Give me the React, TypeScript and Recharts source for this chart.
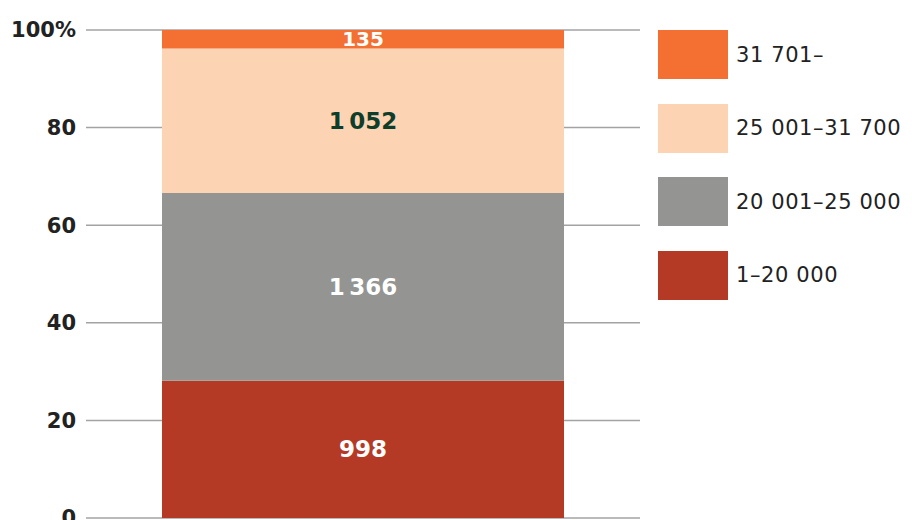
import { Bar, BarChart, CartesianGrid, LabelList, XAxis, YAxis } from 'recharts'

const categories = ['Total']
const band1 = [998] // 1–20 000
const band2 = [1366] // 20 001–25 000
const band3 = [1052] // 25 001–31 700
const band4 = [135] // 31 701–
const yTicks = [0, 0.2, 0.4, 0.6, 0.8, 1]

const series = [
  { key: 'b1', name: '1–20 000', fill: '#B53A26', text: '#ffffff' },
  { key: 'b2', name: '20 001–25 000', fill: '#949593', text: '#ffffff' },
  { key: 'b3', name: '25 001–31 700', fill: '#FCD4B4', text: '#0E3D2A' },
  { key: 'b4', name: '31 701–', fill: '#F37032', text: '#ffffff' },
]

const data = categories.map((c, i) => ({
  name: c,
  b1: band1[i],
  b2: band2[i],
  b3: band3[i],
  b4: band4[i],
}))

const font = '"DejaVu Sans", sans-serif'

const fmt = (v: number) => String(v).replace(/\B(?=(\d{3})+(?!\d))/g, '\u2009')

function renderLabel(color: string, small: boolean) {
  return (props: any) => {
    const { x, y, width, height, value } = props
    const cy = small ? y + height / 2 + 7 : y + height / 2 + 8
    return (
      <text
        x={x + width / 2}
        y={cy}
        textAnchor="middle"
        fill={color}
        fontFamily={font}
        fontWeight={700}
        fontSize={small ? 20 : 23}
      >
        {fmt(value)}
      </text>
    )
  }
}

function LegendBox() {
  const items = [...series].reverse()
  return (
    <div style={{ position: 'absolute', left: 658, top: 30, fontFamily: font }}>
      {items.map((s) => (
        <div key={s.key} style={{ display: 'flex', alignItems: 'center', height: 49, marginBottom: 24.5 }}>
          <div style={{ width: 70, height: 49, background: s.fill }} />
          <span style={{ marginLeft: 8, fontSize: 21, letterSpacing: 0.6, color: '#222', whiteSpace: 'nowrap' }}>
            {s.name}
          </span>
        </div>
      ))}
    </div>
  )
}

export default function App() {
  return (
    <div style={{ position: 'absolute', left: 0, top: 0, width: 912, height: 520, overflow: 'hidden', background: '#fff' }}>
      <BarChart
        width={912}
        height={540}
        data={data}
        stackOffset="expand"
        barSize={402}
        margin={{ top: 30, right: 272, bottom: 22, left: 0 }}
      >
        <CartesianGrid vertical={false} stroke="#a3a3a3" strokeWidth={1.5} />
        <XAxis dataKey="name" hide />
        <YAxis
          width={86}
          domain={[0, 1]}
          ticks={yTicks}
          interval={0}
          axisLine={false}
          tickLine={false}
          tickSize={0}
          tickMargin={10}
          tickFormatter={(v: number) => (v === 1 ? '100%' : String(Math.round(v * 100)))}
          tick={{ fill: '#222', fontFamily: font, fontWeight: 700, fontSize: 21 }}
        />
        {series.map((s) => (
          <Bar key={s.key} dataKey={s.key} name={s.name} stackId="a" fill={s.fill} isAnimationActive={false}>
            <LabelList dataKey={s.key} content={renderLabel(s.text, s.key === 'b4')} />
          </Bar>
        ))}
      </BarChart>
      <LegendBox />
    </div>
  )
}
